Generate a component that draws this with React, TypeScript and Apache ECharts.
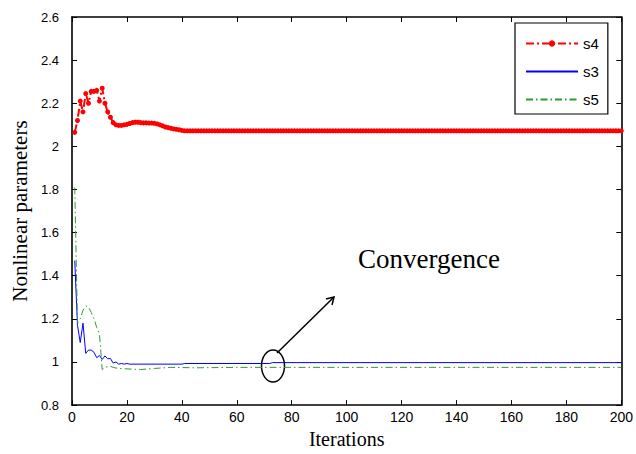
import React, { useEffect, useRef } from "react";
import * as echarts from "echarts";

// s4 values for iterations 1..200 (one marker per iteration)
const s4Head: number[] = [
  2.065, 2.12, 2.21, 2.16, 2.245, 2.2, 2.255, 2.255, 2.26, 2.21,
  2.27, 2.2, 2.16, 2.135, 2.11, 2.1, 2.097, 2.097, 2.1, 2.102,
  2.106, 2.11, 2.112, 2.112, 2.11, 2.109, 2.109, 2.108, 2.108, 2.107,
  2.104, 2.1, 2.095, 2.09, 2.087, 2.084, 2.081, 2.079, 2.077, 2.074,
];
const s4Tail: number[] = [
  2.072, 2.072, 2.072, 2.072, 2.072, 2.072, 2.072, 2.072, 2.072, 2.072,
  2.072, 2.072, 2.072, 2.072, 2.072, 2.072, 2.072, 2.072, 2.072, 2.072,
  2.072, 2.072, 2.072, 2.072, 2.072, 2.072, 2.072, 2.072, 2.072, 2.072,
  2.072, 2.072, 2.072, 2.072, 2.072, 2.072, 2.072, 2.072, 2.072, 2.072,
  2.072, 2.072, 2.072, 2.072, 2.072, 2.072, 2.072, 2.072, 2.072, 2.072,
  2.072, 2.072, 2.072, 2.072, 2.072, 2.072, 2.072, 2.072, 2.072, 2.072,
  2.072, 2.072, 2.072, 2.072, 2.072, 2.072, 2.072, 2.072, 2.072, 2.072,
  2.072, 2.072, 2.072, 2.072, 2.072, 2.072, 2.072, 2.072, 2.072, 2.072,
  2.072, 2.072, 2.072, 2.072, 2.072, 2.072, 2.072, 2.072, 2.072, 2.072,
  2.072, 2.072, 2.072, 2.072, 2.072, 2.072, 2.072, 2.072, 2.072, 2.072,
  2.072, 2.072, 2.072, 2.072, 2.072, 2.072, 2.072, 2.072, 2.072, 2.072,
  2.072, 2.072, 2.072, 2.072, 2.072, 2.072, 2.072, 2.072, 2.072, 2.072,
  2.072, 2.072, 2.072, 2.072, 2.072, 2.072, 2.072, 2.072, 2.072, 2.072,
  2.072, 2.072, 2.072, 2.072, 2.072, 2.072, 2.072, 2.072, 2.072, 2.072,
  2.072, 2.072, 2.072, 2.072, 2.072, 2.072, 2.072, 2.072, 2.072, 2.072,
  2.072, 2.072, 2.072, 2.072, 2.072, 2.072, 2.072, 2.072, 2.072, 2.072,
];

// s3: [iteration, value]
const s3Points: [number, number][] = [
  [1, 1.47], [2, 1.17], [3, 1.09], [4, 1.18], [5, 1.04], [6, 1.055],
  [7, 1.055], [8, 1.045], [9, 1.02], [10, 1.03], [11, 1.012], [12, 1.028],
  [13, 1.015], [14, 1.016], [15, 0.995], [16, 1.0], [17, 0.99], [18, 0.993],
  [19, 0.99], [20, 0.993], [21, 0.99], [40, 0.99], [41, 0.993], [72, 0.993],
  [73, 0.997], [200, 0.997],
];

// s5: [iteration, value]
const s5Points: [number, number][] = [
  [1, 1.81], [2, 1.18], [3, 1.2], [4, 1.24], [5, 1.26], [6, 1.255],
  [7, 1.23], [8, 1.2], [9, 1.16], [10, 1.13], [11, 0.965], [12, 0.975],
  [13, 0.978], [14, 0.98], [15, 0.975], [16, 0.972], [17, 0.97], [20, 0.968],
  [25, 0.965], [30, 0.97], [36, 0.975], [45, 0.973], [60, 0.975], [200, 0.975],
];

const xTicks = { min: 0, max: 200, interval: 20 };
const yTicks = { min: 0.8, max: 2.6, interval: 0.2 };
const annotationText = "Convergence";

export default function App() {
  const ref = useRef<HTMLDivElement>(null);
  useEffect(() => {
    if (!ref.current) return;
    const chart = echarts.init(ref.current, null, { renderer: "svg" });
    const s4 = [...s4Head, ...s4Tail].map((v, i) => [i + 1, v]);
    const sans = "Liberation Sans";
    const serif = "Liberation Serif";
    const axisCommon = {
      axisLine: { show: true, onZero: false, lineStyle: { color: "#000", width: 1.6 } },
      axisTick: { show: true, inside: true, length: 5, lineStyle: { color: "#000", width: 1 } },
      splitLine: { show: false },
    };
    chart.setOption({
      animation: false,
      backgroundColor: "#fff",
      grid: { left: 72, right: 11, top: 17, bottom: 45 },
      legend: {
        orient: "vertical",
        left: 515,
        top: 23,
        padding: [13, 9, 7, 10],
        itemWidth: 52,
        itemHeight: 8,
        itemGap: 13,
        borderColor: "#000",
        borderWidth: 1.2,
        backgroundColor: "#fff",
        textStyle: { fontFamily: sans, fontSize: 15, color: "#000" },
        data: [
          { name: "s4" },
          { name: "s3", itemStyle: { opacity: 0 } },
          { name: "s5", itemStyle: { opacity: 0 } },
        ],
      },
      xAxis: [
        {
          type: "value",
          position: "bottom",
          ...xTicks,
          ...axisCommon,
          name: "Iterations",
          nameLocation: "middle",
          nameGap: 19,
          nameTextStyle: { fontFamily: serif, fontSize: 20, color: "#000" },
          axisLabel: { fontFamily: sans, fontSize: 14, color: "#000", margin: 5 },
        },
        {
          type: "value",
          position: "top",
          ...xTicks,
          ...axisCommon,
          axisLabel: { show: false },
        },
      ],
      yAxis: [
        {
          type: "value",
          position: "left",
          ...yTicks,
          ...axisCommon,
          name: "Nonlinear parameters",
          nameLocation: "middle",
          nameGap: 39,
          nameTextStyle: { fontFamily: serif, fontSize: 21, color: "#000" },
          axisLabel: { fontFamily: sans, fontSize: 13, color: "#000", margin: 13 },
        },
        {
          type: "value",
          position: "right",
          ...yTicks,
          ...axisCommon,
          axisLabel: { show: false },
        },
      ],
      series: [
        {
          name: "s4",
          type: "line",
          data: s4,
          symbol: "circle",
          symbolSize: 5,
          showSymbol: true,
          itemStyle: { color: "#ff0000" },
          lineStyle: { color: "#ff0000", width: 2, type: [8, 3, 2, 3] },
          z: 3,
        },
        {
          name: "s3",
          type: "line",
          data: s3Points,
          symbol: "none",
          itemStyle: { color: "#0000ff" },
          lineStyle: { color: "#0000ff", width: 1 },
          z: 2,
        },
        {
          name: "s5",
          type: "line",
          data: s5Points,
          symbol: "none",
          itemStyle: { color: "#2f9a2f" },
          lineStyle: { color: "#2f9a2f", width: 1, type: [7, 3, 1.5, 3] },
          z: 2,
        },
      ],
      graphic: [
        {
          type: "text",
          left: 358,
          top: 245,
          style: { text: annotationText, fontFamily: serif, fontSize: 27, fill: "#000" },
        },
        {
          type: "line",
          shape: { x1: 277, y1: 353, x2: 334, y2: 297 },
          style: { stroke: "#000", lineWidth: 1.5 },
        },
        {
          type: "polyline",
          shape: { points: [[326, 299], [334, 297], [332, 305]] },
          style: { stroke: "#000", lineWidth: 1.5, fill: "none" },
        },
        {
          type: "ellipse",
          shape: { cx: 273, cy: 366, rx: 11.5, ry: 16 },
          style: { stroke: "#000", lineWidth: 1.5, fill: "none" },
        },
      ],
    });
    return () => chart.dispose();
  }, []);
  return <div ref={ref} style={{ width: 636, height: 454, position: "absolute", left: 0, top: 0 }} />;
}
